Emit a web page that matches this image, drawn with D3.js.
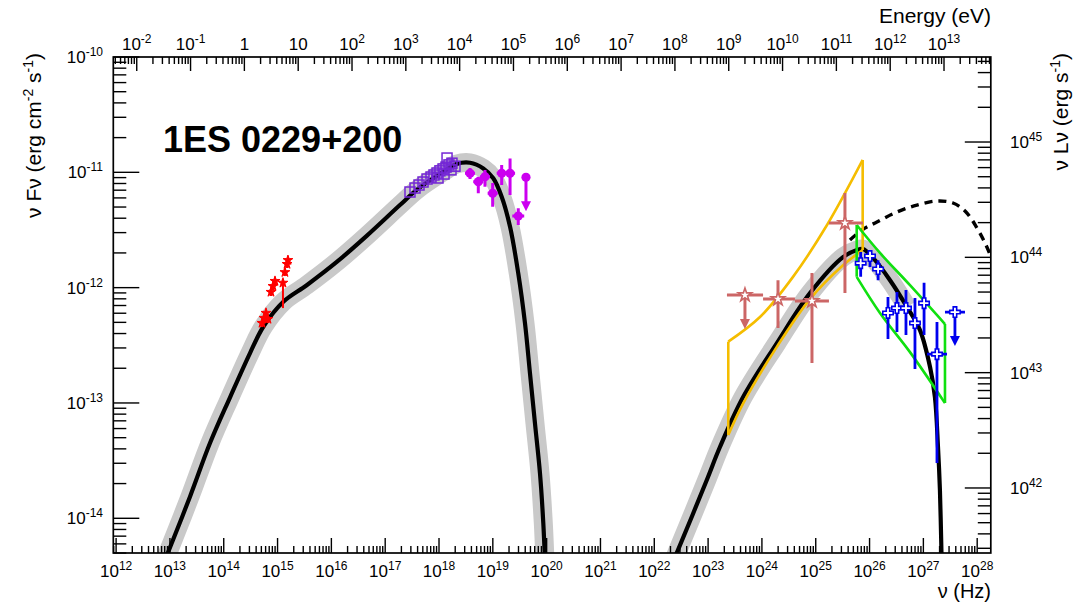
<!DOCTYPE html>
<html>
<head>
<meta charset="utf-8">
<script src="https://cdn.jsdelivr.net/npm/d3@7"></script>
<style>
  body { margin: 0; background: #fff; }
  svg { display: block; font-family: "Liberation Sans", Arial, sans-serif; }
</style>
</head>
<body>
<svg id="sed" width="1086" height="602"></svg>
<script>
// ---- Axis ranges and conversions ----
const nuRange = [8.87e11, 1.79e28];        // Hz
const fluxRange = [5.0e-15, 1.0e-10];      // erg cm^-2 s^-1
const H_EV = 4.1357e-15;                   // eV per Hz
const LUM_FACTOR = 5.46e55;                // 4 pi d_L^2 (cm^2)

// ---- Synchrotron model ----
const syncNu = [5.75e12, 9.33e12, 2.36e13, 5.56e13, 1.31e14, 3.08e14, 5.43e14, 1.28e15, 3.48e15, 1.26e16,
                4.53e16, 1.88e17, 3.85e17, 1.20e18, 2.13e18, 3.77e18, 6.65e18, 1.02e19, 1.46e19, 2.09e19,
                2.97e19, 3.96e19, 4.90e19, 6.07e19, 7.52e19, 8.67e19, 9.31e19, 9.93e19];
const syncF  = [2.91e-15, 5.12e-15, 1.54e-14, 4.49e-14, 1.12e-13, 2.71e-13, 4.58e-13, 7.55e-13, 1.05e-12, 1.67e-12,
                2.81e-12, 5.20e-12, 7.03e-12, 1.01e-11, 1.18e-11, 1.21e-11, 1.08e-11, 8.87e-12, 6.14e-12, 3.37e-12,
                1.33e-12, 4.90e-13, 1.81e-13, 6.65e-14, 2.45e-14, 9.04e-15, 4.34e-15, 2.38e-15];

// ---- Inverse-Compton model (EBL absorbed) ----
const icNu = [1.58e22, 2.61e22, 9.42e22, 1.66e23, 4.45e23, 1.90e24, 7.82e24, 3.21e25, 5.84e25, 7.55e25,
              1.16e26, 2.40e26, 4.96e26, 8.65e26, 1.33e27, 1.64e27, 1.87e27, 2.03e27, 2.17e27, 2.26e27];
const icF  = [2.91e-15, 4.99e-15, 2.14e-14, 4.15e-14, 1.12e-13, 3.31e-13, 8.97e-13, 1.84e-12, 2.12e-12, 2.16e-12,
              1.81e-12, 1.16e-12, 6.79e-13, 4.28e-13, 2.05e-13, 1.12e-13, 4.15e-14, 1.76e-14, 4.99e-15, 2.64e-15];
const icBandMaxNu = 5.0e26;

// ---- Intrinsic (unabsorbed) inverse-Compton ----
const icIntNu = [4.32e25, 7.23e25, 1.37e26, 3.23e26, 7.60e26, 1.79e27, 3.55e27, 6.19e27, 9.91e27, 1.46e28, 1.96e28];
const icIntF  = [2.59e-12, 3.16e-12, 3.71e-12, 4.53e-12, 5.20e-12, 5.64e-12, 5.42e-12, 4.53e-12, 3.29e-12, 2.34e-12, 1.67e-12];

// ---- Fermi-LAT butterfly ----
const latUpNu  = [2.37e23, 9.20e23, 3.78e24, 1.62e25, 7.45e25];
const latUpF   = [3.40e-13, 5.56e-13, 1.24e-12, 3.49e-12, 1.28e-11];
const latLowNu = [2.37e23, 4.51e23, 1.88e24, 7.82e24, 3.25e25, 7.45e25];
const latLowF  = [5.27e-14, 9.97e-14, 3.05e-13, 7.96e-13, 1.57e-12, 2.12e-12];

// ---- TeV butterfly ----
const tevUpNu  = [5.77e25, 1.56e26, 5.64e26, 2.52e27];
const tevUpF   = [3.49e-12, 2.00e-12, 1.05e-12, 4.83e-13];
const tevLowNu = [5.77e25, 1.56e26, 5.64e26, 2.52e27];
const tevLowF  = [1.24e-12, 6.03e-13, 2.76e-13, 9.97e-14];

// ---- Optical / UV ----
const optNu  = [5.14e14, 5.60e14, 6.10e14, 6.64e14, 7.55e14, 8.22e14, 8.96e14, 1.26e15, 1.37e15, 1.50e15, 1.56e15];
const optF   = [4.93e-13, 5.45e-13, 6.03e-13, 5.34e-13, 9.16e-13, 1.03e-12, 1.14e-12, 1.10e-12, 1.36e-12, 1.60e-12, 1.73e-12];
const optFLo = [4.55e-13, 5.03e-13, 5.57e-13, 4.93e-13, 8.46e-13, 9.51e-13, 1.05e-12, 6.65e-13, 1.26e-12, 1.48e-12, 1.60e-12];
const optFHi = [5.34e-13, 5.90e-13, 6.53e-13, 5.78e-13, 9.92e-13, 1.12e-12, 1.23e-12, 1.19e-12, 1.47e-12, 1.73e-12, 1.87e-12];

// ---- Soft X-ray ----
const xrtNu = [2.89e17, 3.58e17, 4.25e17, 5.05e17, 5.99e17, 7.10e17, 8.07e17, 9.18e17, 1.04e18,
               1.19e18, 1.35e18, 1.53e18, 1.74e18, 1.41e18, 9.58e17, 1.24e18, 1.67e18, 1.98e18];
const xrtF  = [6.75e-12, 7.31e-12, 7.76e-12, 8.24e-12, 8.75e-12, 9.10e-12, 9.48e-12, 9.86e-12, 1.03e-11,
               1.07e-11, 1.11e-11, 1.16e-11, 1.20e-11, 1.33e-11, 8.93e-12, 9.66e-12, 1.05e-11, 1.13e-11];

// ---- Hard X-ray ----
const hxNu   = [3.77e18, 5.37e18, 7.15e18, 9.93e18, 1.46e19, 2.09e19, 2.97e19, 4.13e19];
const hxNuLo = [3.04e18, 4.33e18, 5.77e18, 8.01e18, 1.18e19, 1.69e19, 2.30e19, null];
const hxNuHi = [4.67e18, 6.66e18, 8.87e18, 1.23e19, 1.81e19, 2.59e19, 3.83e19, null];
const hxF    = [9.80e-12, 8.28e-12, 9.16e-12, 6.58e-12, 9.80e-12, 9.80e-12, 4.18e-12, 9.06e-12];
const hxFLo  = [8.75e-12, 6.58e-12, 7.50e-12, 5.04e-12, 7.76e-12, 6.35e-12, 3.49e-12, null];
const hxFHi  = [1.09e-11, 9.16e-12, 1.05e-11, 8.07e-12, 1.16e-11, 1.32e-11, 4.88e-12, null];
const hxUL   = [false, false, false, false, false, false, false, true];

// ---- Fermi-LAT spectral points ----
const latNu   = [4.84e23, 1.99e24, 8.51e24, 3.49e25];
const latNuLo = [2.24e23, 1.05e24, 4.11e24, 1.76e25];
const latNuHi = [1.05e24, 4.11e24, 1.76e25, 7.55e25];
const latF    = [8.63e-13, 7.96e-13, 7.65e-13, 3.63e-12];
const latFLo  = [null, 4.47e-13, 2.22e-13, 8.97e-13];
const latFHi  = [null, 1.16e-12, 1.34e-12, 6.61e-12];
const latUL   = [true, false, false, false];

// ---- TeV spectral points ----
const tevNu   = [6.84e25, 1.02e26, 1.44e26, 2.20e26, 3.23e26, 4.75e26, 6.98e26, 1.03e27, 1.79e27, 3.86e27];
const tevNuLo = [5.76e25, 8.59e25, 1.21e26, 1.85e26, 2.72e26, 4.00e26, 5.88e26, 8.68e26, 1.17e27, 2.52e27];
const tevNuHi = [8.12e25, 1.21e26, 1.71e26, 2.61e26, 3.83e26, 5.64e26, 8.29e26, 1.22e27, 2.75e27, 5.93e27];
const tevF    = [1.63e-12, 1.88e-12, 1.45e-12, 6.03e-13, 6.65e-13, 6.65e-13, 4.93e-13, 7.34e-13, 2.65e-13, 6.14e-13];
const tevFLo  = [1.24e-12, 1.51e-12, 1.16e-12, 3.58e-13, 4.12e-13, 3.88e-13, 1.97e-13, 3.88e-13, 3.01e-14, null];
const tevFHi  = [2.04e-12, 2.12e-12, 1.73e-12, 8.28e-13, 9.16e-13, 9.53e-13, 8.13e-13, 1.10e-12, 5.04e-13, null];
const tevUL   = [false, false, false, false, false, false, false, false, false, true];

// ---- Tick label exponents ----
const nuLabelExp = d3.range(12, 29);
const eLabelExp = d3.range(-2, 14);
const fLabelExp = [-10, -11, -12, -13, -14];
const lLabelExp = [42, 43, 44, 45];

// ================= drawing =================
const svg = d3.select("#sed");
const frame = { left: 113.3, right: 990.8, top: 57, bottom: 553 };

const xNu = d3.scaleLog().domain(nuRange).range([frame.left, frame.right]);
const xE  = d3.scaleLog().domain(nuRange.map(v => v * H_EV)).range([frame.left, frame.right]);
const yF  = d3.scaleLog().domain(fluxRange).range([frame.bottom, frame.top]);
const yL  = d3.scaleLog().domain(fluxRange.map(v => v * LUM_FACTOR)).range([frame.bottom, frame.top]);

svg.append("defs").append("clipPath").attr("id", "plotClip")
  .append("rect")
  .attr("x", frame.left).attr("y", frame.top)
  .attr("width", frame.right - frame.left).attr("height", frame.bottom - frame.top);

const plot = svg.append("g").attr("clip-path", "url(#plotClip)");

const zip = (a, b) => a.map((v, i) => [v, b[i]]);
const smooth = d3.line().x(d => xNu(d[0])).y(d => yF(d[1])).curve(d3.curveCatmullRom.alpha(0.5));
const straight = d3.line().x(d => xNu(d[0])).y(d => yF(d[1]));

const BAND = "#c9c9c9";
const syncPts = zip(syncNu, syncF);
const icPts = zip(icNu, icF);

// uncertainty bands
plot.append("path").attr("d", smooth(syncPts)).attr("fill", "none")
  .attr("stroke", BAND).attr("stroke-width", 19).attr("stroke-linejoin", "round");
plot.append("path").attr("d", smooth(icPts.filter(d => d[0] <= icBandMaxNu))).attr("fill", "none")
  .attr("stroke", BAND).attr("stroke-width", 19).attr("stroke-linejoin", "round");

// model curves
plot.append("path").attr("d", smooth(syncPts)).attr("fill", "none")
  .attr("stroke", "#000").attr("stroke-width", 4.2);
plot.append("path").attr("d", smooth(icPts)).attr("fill", "none")
  .attr("stroke", "#000").attr("stroke-width", 4.2);
plot.append("path").attr("d", smooth(zip(icIntNu, icIntF))).attr("fill", "none")
  .attr("stroke", "#000").attr("stroke-width", 3.4).attr("stroke-dasharray", "8,6");

// butterflies
function butterfly(upNu, upF, lowNu, lowF, color) {
  const up = zip(upNu, upF), low = zip(lowNu, lowF);
  const g = plot.append("g").attr("fill", "none").attr("stroke", color).attr("stroke-width", 2.6)
    .attr("stroke-linejoin", "round");
  g.append("path").attr("d", smooth(up));
  g.append("path").attr("d", smooth(low));
  g.append("path").attr("d", straight([up[0], low[0]]));
  g.append("path").attr("d", straight([up[up.length - 1], low[low.length - 1]]));
}
butterfly(latUpNu, latUpF, latLowNu, latLowF, "#f5bd00");
butterfly(tevUpNu, tevUpF, tevLowNu, tevLowF, "#10e010");

// error bars and upper-limit arrows
function errorBars(g, o, color, width) {
  o.nu.forEach((nu, i) => {
    const cx = xNu(nu), cy = yF(o.f[i]);
    if (o.nuLo && o.nuLo[i] != null) {
      g.append("line").attr("x1", xNu(o.nuLo[i])).attr("x2", xNu(o.nuHi[i]))
        .attr("y1", cy).attr("y2", cy).attr("stroke", color).attr("stroke-width", width);
    }
    if (o.fLo && o.fLo[i] != null) {
      g.append("line").attr("x1", cx).attr("x2", cx)
        .attr("y1", yF(o.fLo[i])).attr("y2", yF(o.fHi[i])).attr("stroke", color).attr("stroke-width", width);
    }
    if (o.ul && o.ul[i]) {
      g.append("line").attr("x1", cx).attr("x2", cx).attr("y1", cy).attr("y2", cy + 25)
        .attr("stroke", color).attr("stroke-width", width);
      g.append("path").attr("d", `M${cx - 5},${cy + 24}L${cx + 5},${cy + 24}L${cx},${cy + 34}Z`)
        .attr("fill", color);
    }
  });
}

const pts = plot.append("g");

// optical / UV
errorBars(pts, { nu: optNu, f: optF, fLo: optFLo, fHi: optFHi }, "#ff0000", 2);
pts.selectAll(".opt").data(zip(optNu, optF)).join("path")
  .attr("transform", d => `translate(${xNu(d[0])},${yF(d[1])})`)
  .attr("d", d3.symbol(d3.symbolStar, 30)())
  .attr("fill", "#ff0000").attr("stroke", "#ff0000").attr("stroke-width", 1);

// soft X-ray
pts.selectAll(".xrt").data(zip(xrtNu, xrtF)).join("rect")
  .attr("x", d => xNu(d[0]) - 5).attr("y", d => yF(d[1]) - 5)
  .attr("width", 10).attr("height", 10)
  .attr("fill", "none").attr("stroke", "#7426d6").attr("stroke-width", 1.5);

// hard X-ray
errorBars(pts, { nu: hxNu, nuLo: hxNuLo, nuHi: hxNuHi, f: hxF, fLo: hxFLo, fHi: hxFHi, ul: hxUL }, "#cc00f0", 3);
pts.selectAll(".hx").data(zip(hxNu, hxF)).join("circle")
  .attr("cx", d => xNu(d[0])).attr("cy", d => yF(d[1])).attr("r", 4.6)
  .attr("fill", "#cc00f0");

// Fermi-LAT points
errorBars(pts, { nu: latNu, nuLo: latNuLo, nuHi: latNuHi, f: latF, fLo: latFLo, fHi: latFHi, ul: latUL }, "#cc6666", 3);
pts.selectAll(".lat").data(zip(latNu, latF)).join("path")
  .attr("transform", d => `translate(${xNu(d[0])},${yF(d[1])})`)
  .attr("d", d3.symbol(d3.symbolStar, 55)())
  .attr("fill", "#fff").attr("stroke", "#cc6666").attr("stroke-width", 1.6);

// TeV points
errorBars(pts, { nu: tevNu, nuLo: tevNuLo, nuHi: tevNuHi, f: tevF, fLo: tevFLo, fHi: tevFHi, ul: tevUL }, "#0000ee", 2.8);
pts.selectAll(".tev").data(zip(tevNu, tevF)).join("path")
  .attr("transform", d => `translate(${xNu(d[0])},${yF(d[1])})`)
  .attr("d", d3.symbol(d3.symbolCross, 60)())
  .attr("fill", "#fff").attr("stroke", "#0000ee").attr("stroke-width", 1.6);

// ---- frame ----
svg.append("rect")
  .attr("x", frame.left).attr("y", frame.top)
  .attr("width", frame.right - frame.left).attr("height", frame.bottom - frame.top)
  .attr("fill", "none").attr("stroke", "#000").attr("stroke-width", 1.7);

// ---- ticks ----
function decadeTicks(scale) {
  const [a, b] = scale.domain();
  const lo = Math.floor(Math.log10(a)) - 1, hi = Math.ceil(Math.log10(b)) + 1;
  const out = [];
  for (let k = lo; k <= hi; k++) {
    for (let m = 1; m < 10; m++) {
      const v = m * Math.pow(10, k);
      if (v < a * (1 - 1e-9) || v > b * (1 + 1e-9)) continue;
      out.push({ v, major: m === 1 });
    }
  }
  return out;
}

const tickG = svg.append("g").attr("stroke", "#000").attr("stroke-width", 1.4);
decadeTicks(xNu).forEach(t => {
  const x = xNu(t.v), len = t.major ? 15 : 7;
  tickG.append("line").attr("x1", x).attr("x2", x).attr("y1", frame.bottom).attr("y2", frame.bottom - len);
});
decadeTicks(xE).forEach(t => {
  const x = xE(t.v), len = t.major ? 14 : 7;
  tickG.append("line").attr("x1", x).attr("x2", x).attr("y1", frame.top).attr("y2", frame.top + len);
});
decadeTicks(yF).forEach(t => {
  const y = yF(t.v), len = t.major ? 26 : 13;
  tickG.append("line").attr("x1", frame.left).attr("x2", frame.left + len).attr("y1", y).attr("y2", y);
});
decadeTicks(yL).forEach(t => {
  const y = yL(t.v), len = t.major ? 26 : 13;
  tickG.append("line").attr("x1", frame.right).attr("x2", frame.right - len).attr("y1", y).attr("y2", y);
});

// ---- tick labels ----
function powLabel(text, k, plainSmall) {
  if (plainSmall && k === 0) { text.text("1"); return; }
  if (plainSmall && k === 1) { text.text("10"); return; }
  text.append("tspan").text("10");
  text.append("tspan").attr("dy", -7).attr("font-size", 12).text(k);
}
const labels = svg.append("g").attr("font-size", 17).attr("fill", "#000");

nuLabelExp.forEach(k => {
  const t = labels.append("text").attr("x", xNu(Math.pow(10, k))).attr("y", 577).attr("text-anchor", "middle");
  powLabel(t, k, false);
});
eLabelExp.forEach(k => {
  const t = labels.append("text").attr("x", xE(Math.pow(10, k))).attr("y", 50).attr("text-anchor", "middle");
  powLabel(t, k, true);
});
fLabelExp.forEach(k => {
  const t = labels.append("text").attr("x", 103).attr("y", yF(Math.pow(10, k)) + 6).attr("text-anchor", "end");
  powLabel(t, k, false);
});
lLabelExp.forEach(k => {
  const t = labels.append("text").attr("x", 1010).attr("y", yL(Math.pow(10, k)) + 6).attr("text-anchor", "start");
  powLabel(t, k, false);
});

// ---- axis titles ----
function titleWithSups(text, parts) {
  let raised = false;
  parts.forEach(p => {
    const s = text.append("tspan").text(p.t);
    if (p.sup && !raised) { s.attr("dy", -8).attr("font-size", 14); raised = true; }
    else if (p.sup) { s.attr("font-size", 14); }
    else if (raised) { s.attr("dy", 8); raised = false; }
  });
}
const titles = svg.append("g").attr("font-size", 21).attr("fill", "#000");

titleWithSups(
  titles.append("text").attr("transform", "translate(41,53) rotate(-90)").attr("text-anchor", "end"),
  [{ t: "ν Fν (erg cm" }, { t: "-2", sup: true }, { t: " s" }, { t: "-1", sup: true }, { t: ")" }]
);
titleWithSups(
  titles.append("text").attr("transform", "translate(1068,53) rotate(-90)").attr("text-anchor", "end"),
  [{ t: "ν Lν (erg s" }, { t: "-1", sup: true }, { t: ")" }]
);
titles.append("text").attr("x", 991).attr("y", 23).attr("text-anchor", "end").text("Energy (eV)");
titles.append("text").attr("x", 991).attr("y", 598).attr("font-size", 20).attr("text-anchor", "end").text("ν (Hz)");

// ---- source name ----
svg.append("text").attr("x", 163).attr("y", 152)
  .attr("font-size", 36).attr("font-weight", "bold").attr("fill", "#000")
  .text("1ES 0229+200");
</script>
</body>
</html>
